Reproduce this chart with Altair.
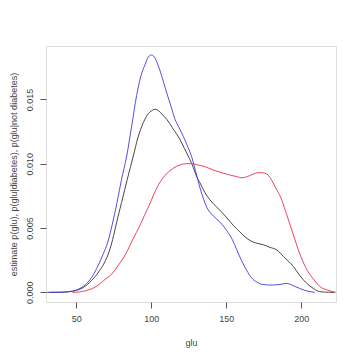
import altair as alt
import pandas as pd

# p(glu|not diabetes) - blue
blue_x = [32, 40, 45, 50, 55, 59, 62, 65, 68, 71, 74, 77, 80, 83.6, 87, 90.2, 93, 95.8, 98, 100,
          102, 104.7, 107.5, 110.3, 113, 115.8, 118.5, 121.4, 124, 127, 130, 132.5, 135, 137, 140,
          143.6, 147, 150.3, 154, 157, 160, 163.6, 167, 170.3, 175, 179, 185, 190, 195, 199, 204, 209]
blue_y = [0, 0.00001, 0.00005, 0.00018, 0.0005, 0.00096, 0.0015, 0.0022, 0.003, 0.0039, 0.0053,
          0.0069, 0.0087, 0.0106, 0.0130, 0.0153, 0.0168, 0.0177, 0.0183, 0.01845, 0.0183, 0.0176,
          0.0166, 0.0155, 0.0145, 0.01345, 0.0128, 0.0121, 0.0114, 0.0105, 0.0092, 0.0081, 0.0072,
          0.0066, 0.0061, 0.0057, 0.0053, 0.0048, 0.0041, 0.0033, 0.0025, 0.0017, 0.0011, 0.0008,
          0.0006, 0.00057, 0.0006, 0.0007, 0.0005, 0.0003, 0.0001, 0]

# p(glu) - black
black_x = [30.5, 40, 45, 50, 55, 60, 65, 68.7, 72, 74.2, 77, 80.2, 84, 88, 91, 94.7, 98, 100, 102.5,
           105, 107.5, 110.3, 114, 119, 122, 125.8, 128, 130.2, 132.5, 135.5, 139, 143, 148, 151,
           154.7, 159, 163.6, 168, 171, 174.7, 179, 183.6, 188, 194.7, 199, 203.6, 208, 212.5, 218, 222]
black_y = [0, 0.00001, 0.00005, 0.00015, 0.0004, 0.0009, 0.0016, 0.0023, 0.0032, 0.0041, 0.0055,
           0.0070, 0.0088, 0.0106, 0.0120, 0.0132, 0.0139, 0.0141, 0.01423, 0.0141, 0.0138, 0.01345,
           0.0128, 0.0119, 0.0112, 0.0103, 0.0097, 0.0090, 0.0085, 0.0078, 0.0072, 0.0067, 0.0061,
           0.0057, 0.0052, 0.0047, 0.0042, 0.0039, 0.0038, 0.0037, 0.0035, 0.0033, 0.0028, 0.0020,
           0.0013, 0.0007, 0.0003, 0.00005, 0.00001, 0]

# p(glu|diabetes) - red
red_x = [47.5, 52, 57, 63, 68, 74.2, 78, 83, 88, 92, 95.5, 98.7, 102, 106, 110, 114, 119, 123, 127,
         131, 135, 141.5, 147, 153, 157, 160.3, 164, 168, 171, 173.6, 177, 180.3, 183, 186.2, 189.5,
         192.9, 196, 199.6, 204, 208.5, 213, 217.4, 223]
red_y = [0, 0.00003, 0.00015, 0.00044, 0.0009, 0.0015, 0.0021, 0.0030, 0.0042, 0.0051, 0.0060,
         0.0068, 0.0077, 0.0086, 0.0092, 0.0096, 0.0099, 0.0100, 0.0100, 0.0099, 0.0098, 0.0095,
         0.0093, 0.0091, 0.0090, 0.0089, 0.0090, 0.0092, 0.0093, 0.0093, 0.0092, 0.0087, 0.0081,
         0.0074, 0.0063, 0.0051, 0.0040, 0.0028, 0.0017, 0.00096, 0.0004, 0.00018, 0]

x_ticks = [50, 100, 150, 200]
y_ticks = [0.0, 0.005, 0.010, 0.015]

rows = []
for name, xs, ys in [("all", black_x, black_y), ("diabetes", red_x, red_y), ("not", blue_x, blue_y)]:
    for i, (a, b) in enumerate(zip(xs, ys)):
        rows.append({"series": name, "glu": a, "p": b, "i": i})
df = pd.DataFrame(rows)

FONT = "Liberation Sans"

chart = alt.Chart(df).mark_line(strokeWidth=0.9, interpolate="monotone", clip=True).encode(
    x=alt.X("glu:Q",
            scale=alt.Scale(domain=[29.8, 223.1], nice=False, zero=False),
            axis=alt.Axis(values=x_ticks, title="glu", domain=False, grid=False,
                          tickSize=6, tickColor="#555", labelPadding=6,
                          labelFont=FONT, labelFontSize=9, labelColor="#444",
                          titleFont=FONT, titleFontSize=9, titleFontWeight="normal",
                          titleColor="#444", titlePadding=15, labelFlush=False)),
    y=alt.Y("p:Q",
            scale=alt.Scale(domain=[-0.00075, 0.01915], nice=False, zero=False),
            axis=alt.Axis(values=y_ticks, format=".3f", domain=False, grid=False,
                          title="estimate p(glu), p(glu|diabetes), p(glu|not diabetes)",
                          tickSize=6, tickColor="#555", labelAngle=270,
                          labelAlign="center", labelBaseline="bottom", labelPadding=6,
                          labelFont=FONT, labelFontSize=9, labelColor="#444",
                          titleFont=FONT, titleFontSize=9, titleFontWeight="normal",
                          titleColor="#444", titlePadding=7, labelFlush=False)),
    color=alt.Color("series:N", legend=None,
                    scale=alt.Scale(domain=["all", "diabetes", "not"],
                                    range=["#333333", "#e8304a", "#3c3ce0"])),
    detail="series:N",
    order="i:Q",
).properties(
    width=290, height=256,
    autosize="none",
    padding={"left": 38, "top": 38, "right": 16, "bottom": 50},
).configure_view(stroke="#555", strokeWidth=1).configure(background="white")

chart.save("out.html", embed_options={"renderer": "svg", "actions": False})
